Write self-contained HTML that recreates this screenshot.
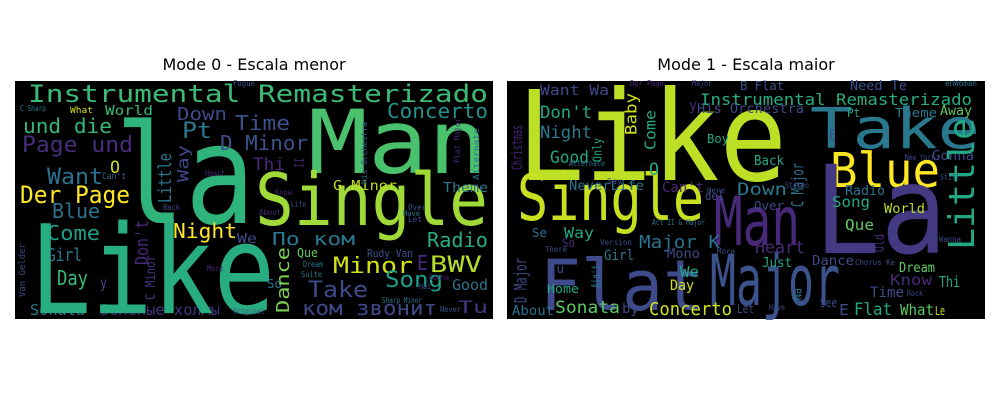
<!DOCTYPE html>
<html><head><meta charset="utf-8"><style>
html,body{margin:0;padding:0;background:#fff;}
body{width:1000px;height:400px;position:relative;overflow:hidden;font-family:"DejaVu Sans","Liberation Sans",sans-serif;}
.title{position:absolute;top:55px;font-size:16px;color:#000;text-align:center;width:478px;}
svg{position:absolute;}
</style></head><body>
<div class="title" style="left:15px">Mode 0 - Escala menor</div>
<div class="title" style="left:507px">Mode 1 - Escala maior</div>
<svg id="left" width="480" height="240" style="left:15px;top:80px"><rect x="0" y="1" width="478" height="238" fill="#000"/></svg>
<svg id="right" width="480" height="240" style="left:507px;top:80px"><rect x="0" y="1" width="478" height="238" fill="#000"/></svg>
<script>
// [word, x, y(baseline or bottom for vertical), fontSize, color, length, vertical]
const leftWords = [
["Instrumental Remasterizado",13,22,24,"#3cbb75",460,0],
["und die",8,53,20,"#35b779",89,0],
["Page und",7,72,22,"#472d7b",111,0],
["Want",32,104,22,"#2c728e",56,0],
["O",95,93,17,"#c8e020",10,0],
["Der Page",5,123,24,"#fde725",110,0],
["Blue",37,138,20,"#2c728e",48,0],
["Come",32,160,20,"#1f9e89",53,0],
["Girl",32,181,18,"#2a788e",35,0],
["Day",42,205,20,"#3aba76",31,0],
["Sonata",15,235,15,"#2a788e",55,0],
["Зеленые холмы",85,235,15,"#46337e",120,0],
["Like",15,233,123,"#27ad81",245,0],
["la",100,143,138,"#2fb47c",140,0],
["Man",293,93,88,"#4ac16d",180,0],
["Single",240,145,72,"#a0da39",233,0],
["Pt",167,58,22,"#2a788e",30,0],
["Down",162,40,18,"#3e4a89",50,0],
["Time",220,50,20,"#3b528b",55,0],
["Concerto",372,38,20,"#21918c",101,0],
["D Minor",205,70,20,"#3b528b",88,0],
["Thi",238,90,17,"#482878",32,0],
["What",55,33,9,"#d8e219",23,0],
["World",90,35,13,"#3aba76",48,0],
["Night",158,158,20,"#fde725",64,0],
["We",222,163,13,"#3e4a89",20,0],
["y",85,208,15,"#3e4a89",7,0],
["По ком",257,165,18,"#2a788e",83,0],
["G Minor",318,110,13,"#c2df23",64,0],
["Theme",428,112,13,"#2a788e",45,0],
["Radio",412,167,20,"#27ad81",61,0],
["Minor",318,193,22,"#d2e21b",80,0],
["E",402,190,20,"#482878",11,0],
["BWV",415,192,22,"#b5de2b",52,0],
["Que",282,177,12,"#5ec962",21,0],
["Rudy Van",352,177,11,"#3b528b",46,0],
["Take",293,217,22,"#3e4a89",60,0],
["Song",370,207,22,"#1f9e89",58,0],
["Good",437,210,15,"#2c728e",36,0],
["So",252,208,12,"#2c728e",15,0],
["ком звонит",287,235,20,"#3e4a89",135,0],
["Tu",443,233,17,"#46337e",30,0],
["Little",160,123,18,"#2a788e",50,1],
["Way",177,102,16,"#3e4a89",37,1],
["Don't",137,185,18,"#482878",45,1],
["C Minor",143,220,13,"#46337e",45,1],
["Dance",278,233,18,"#7ad151",66,1],
["Van Gelder",12,217,9,"#3e4a89",54,1],
["II",291,88,12,"#482878",10,1],
["Can't",87,99,9,"#31688e",24,0],
["Back",148,130,8,"#3e4a89",17,0],
["Fugue",218,6,8,"#3b528b",22,0],
["C Sharp",5,31,8,"#2a788e",26,0],
["Know",260,115,8,"#482878",17,0],
["Life",276,127,8,"#3e4a89",15,0],
["About",244,135,8,"#482878",22,0],
["Suite",286,197,8,"#2a788e",21,0],
["Dream",288,187,8,"#2a788e",20,0],
["Original",218,234,8,"#3e4a89",32,0],
["Never",425,232,8,"#3b528b",21,0],
["Over",393,130,8,"#3b528b",18,0],
["Have",388,136,8,"#2c728e",17,0],
["Let",393,142,8,"#3e4a89",14,0],
["Sharp Minor",367,223,8,"#2c728e",40,0],
["Heart",190,96,8,"#482878",20,0],
["Gonna",414,200,8,"#482878",20,0],
["More",192,191,8,"#482878",16,0],
["Hai",404,209,8,"#3b528b",12,0],
["His Orchestra",354,104,8,"#31688e",62,1],
["Alternate",466,100,8,"#2c728e",52,1],
["Flat Major",447,83,8,"#482878",45,1]
];
const rightWords = [
["Like",10,100,125,"#bddf26",270,0],
["Single",10,140,64,"#c8e020",187,0],
["Take",303,68,56,"#2a788e",170,0],
["Blue",323,107,48,"#fde725",110,0],
["La",307,173,122,"#443a83",133,0],
["Man",207,165,68,"#482878",86,0],
["Flat",33,230,70,"#3e4a89",164,0],
["Major",203,225,70,"#3b528b",130,0],
["Instrumental Remasterizado",193,25,16,"#27ad81",272,0],
["Want Wa",33,15,14,"#3e4a89",69,0],
["B Flat",233,10,12,"#3b528b",44,0],
["Need Te",343,10,13,"#3b528b",57,0],
["Don't",33,38,17,"#22a884",52,0],
["Night",33,58,17,"#2a788e",52,0],
["Good",43,83,17,"#22a884",39,0],
["O",142,95,17,"#22a884",10,0],
["His Orchestra",190,33,13,"#3e4a89",107,0],
["Pt",340,37,12,"#22a884",13,0],
["Theme",388,37,12,"#2a788e",42,0],
["Away",433,35,13,"#5ec962",32,0],
["Boy",200,63,12,"#22a884",22,0],
["Back",247,85,13,"#22a884",30,0],
["E",322,60,14,"#3e4a89",7,0],
["Gonna",425,80,13,"#3e4a89",42,0],
["Down",230,115,17,"#2a788e",50,0],
["NeverLife",62,110,13,"#2c728e",75,0],
["Can't",155,112,14,"#482878",42,0],
["del",198,120,12,"#3e4a89",19,0],
["Song",325,127,15,"#22a884",38,0],
["Radio",338,115,13,"#2c728e",40,0],
["World",377,133,13,"#bddf26",41,0],
["Que",338,150,15,"#5ec962",29,0],
["Over",247,130,12,"#3e4a89",30,0],
["Way",57,158,15,"#22a884",30,0],
["Se",25,157,12,"#2c728e",15,0],
["So",55,167,12,"#482878",13,0],
["Major K",132,168,18,"#2c728e",81,0],
["Heart",248,173,17,"#482878",50,0],
["Girl",97,180,14,"#2a788e",30,0],
["Mono",160,178,13,"#3e4a89",33,0],
["Tu",42,193,13,"#3e4a89",15,0],
["We",173,197,15,"#22a884",19,0],
["Day",163,210,14,"#d2e21b",24,0],
["Home",40,213,12,"#22a884",32,0],
["Just",255,187,13,"#22a884",30,0],
["Dance",305,185,13,"#3e4a89",42,0],
["Dream",392,192,13,"#5ec962",36,0],
["Know",383,205,15,"#482878",42,0],
["Thi",432,207,15,"#22a884",21,0],
["Time",363,217,14,"#3e4a89",34,0],
["About",5,235,13,"#2c728e",42,0],
["Sonata",48,233,17,"#5ec962",65,0],
["by",115,233,13,"#3e4a89",17,0],
["Concerto",142,235,18,"#d2e21b",83,0],
["Let",230,233,12,"#3e4a89",17,0],
["See",313,227,12,"#3e4a89",17,0],
["E",332,235,15,"#3e4a89",10,0],
["Flat",347,235,17,"#22a884",38,0],
["What",393,235,15,"#5ec962",34,0],
["Le",428,235,12,"#c8e020",10,0],
["Little",475,170,36,"#22a884",132,1],
["Baby",133,55,16,"#d2e21b",42,1],
["Come",152,70,15,"#22a884",40,1],
["Only",97,82,12,"#22a884",24,1],
["C Major",300,127,17,"#2c728e",44,1],
["Christmas",18,90,14,"#482878",45,1],
["D Major",23,223,17,"#3e4a89",45,1],
["Ain't",97,208,13,"#2a788e",23,1],
["Old",380,172,13,"#482878",18,1],
["Na",297,220,12,"#2c728e",12,1],
["y",182,30,14,"#482878",8,0],
["Alternate",62,86,8,"#2c728e",36,0],
["Act II G Major",145,145,8,"#2c728e",53,0],
["Version",93,165,8,"#3e4a89",32,0],
["There",38,172,8,"#3e4a89",22,0],
["More",210,174,8,"#3e4a89",18,0],
["Chorus Ke",348,185,8,"#3e4a89",40,0],
["Stereo",278,108,8,"#3e4a89",24,0],
["Still",433,100,8,"#3e4a89",20,0],
["New York",398,80,8,"#3e4a89",30,0],
["Rock",400,216,8,"#3e4a89",16,0],
["Wanna",432,162,8,"#3e4a89",22,0],
["Have",262,230,8,"#3e4a89",16,0],
["Say",100,104,8,"#3e4a89",15,0],
["Here",200,113,8,"#3e4a89",18,0],
["Der Page",123,6,8,"#482878",34,0],
["Major",185,6,8,"#3e4a89",20,0],
["enWoman",438,6,8,"#2c728e",32,0]
];
function draw(id, words){
  const svg=document.getElementById(id);
  const NS="http://www.w3.org/2000/svg";
  words.forEach(w=>{
    const [txt,x,y,fs,col,len,vert]=w;
    const t=document.createElementNS(NS,"text");
    
    
    t.textContent=txt;
    t.setAttribute("font-family",'"DejaVu Sans Mono","Liberation Mono","Noto Sans CJK SC",monospace');
    t.setAttribute("font-size",fs);
    t.setAttribute("fill",col);
    t.setAttribute("textLength",len);
    t.setAttribute("lengthAdjust","spacingAndGlyphs");
    if(vert){
      const bx=x-fs*0.22;
      t.setAttribute("x",0);t.setAttribute("y",0);
      t.setAttribute("transform","translate("+bx+","+y+") rotate(-90)");
    } else {
      t.setAttribute("x",x);t.setAttribute("y",y);
    }
    svg.appendChild(t);
  });
}
draw("left",leftWords);
draw("right",rightWords);
</script>
</body></html>
